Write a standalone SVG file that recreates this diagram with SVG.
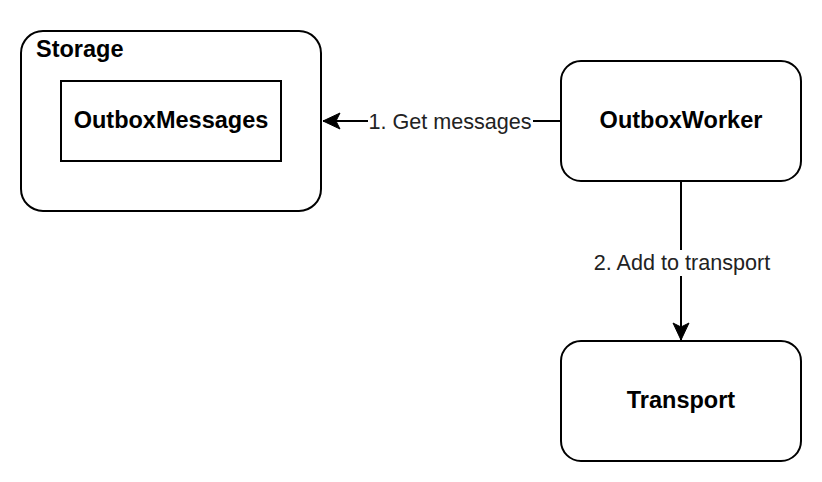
<svg xmlns="http://www.w3.org/2000/svg" width="822" height="482" viewBox="0 0 822 482">
<style>
.box{fill:#fff;stroke:#000;stroke-width:2}
.edge{fill:none;stroke:#000;stroke-width:2}
.b{font-family:"Liberation Sans",Arial,sans-serif;font-weight:bold;font-size:23.5px;fill:#000;text-anchor:middle}
.l{font-family:"Liberation Sans",Arial,sans-serif;font-size:21.6px;fill:#222;text-anchor:middle}
</style>
<defs>
<marker id="arr" markerUnits="userSpaceOnUse" markerWidth="20" markerHeight="20" viewBox="-18 -10 20 20" refX="0" refY="0" orient="auto">
<path d="M0,0 L-17,-8 L-13,0 L-17,8 Z" fill="#000" stroke="#000" stroke-width="1"/>
</marker>
</defs>
<rect width="822" height="482" fill="#fff"/>
<g id="storage">
<rect class="box" x="21" y="31" width="300" height="180" rx="22"/>
<text class="b" x="36" y="57" style="text-anchor:start">Storage</text>
</g>
<g id="outboxmessages">
<rect class="box" x="61" y="81" width="220" height="80"/>
<text class="b" x="171" y="128">OutboxMessages</text>
</g>
<g id="outboxworker">
<rect class="box" x="561" y="61" width="240" height="120" rx="20"/>
<text class="b" x="681" y="128">OutboxWorker</text>
</g>
<g id="transport">
<rect class="box" x="561" y="341" width="240" height="120" rx="20"/>
<text class="b" x="681" y="408">Transport</text>
</g>
<g id="connectors">
<path class="edge" d="M561,121 L323,121" marker-end="url(#arr)"/>
<rect x="368" y="108" width="165" height="26" fill="#fff"/>
<text class="l" x="450" y="129">1. Get messages</text>
<path class="edge" d="M681,181 L681,340" marker-end="url(#arr)"/>
<rect x="588" y="250" width="188" height="26" fill="#fff"/>
<text class="l" x="682" y="270">2. Add to transport</text>
</g>
</svg>
